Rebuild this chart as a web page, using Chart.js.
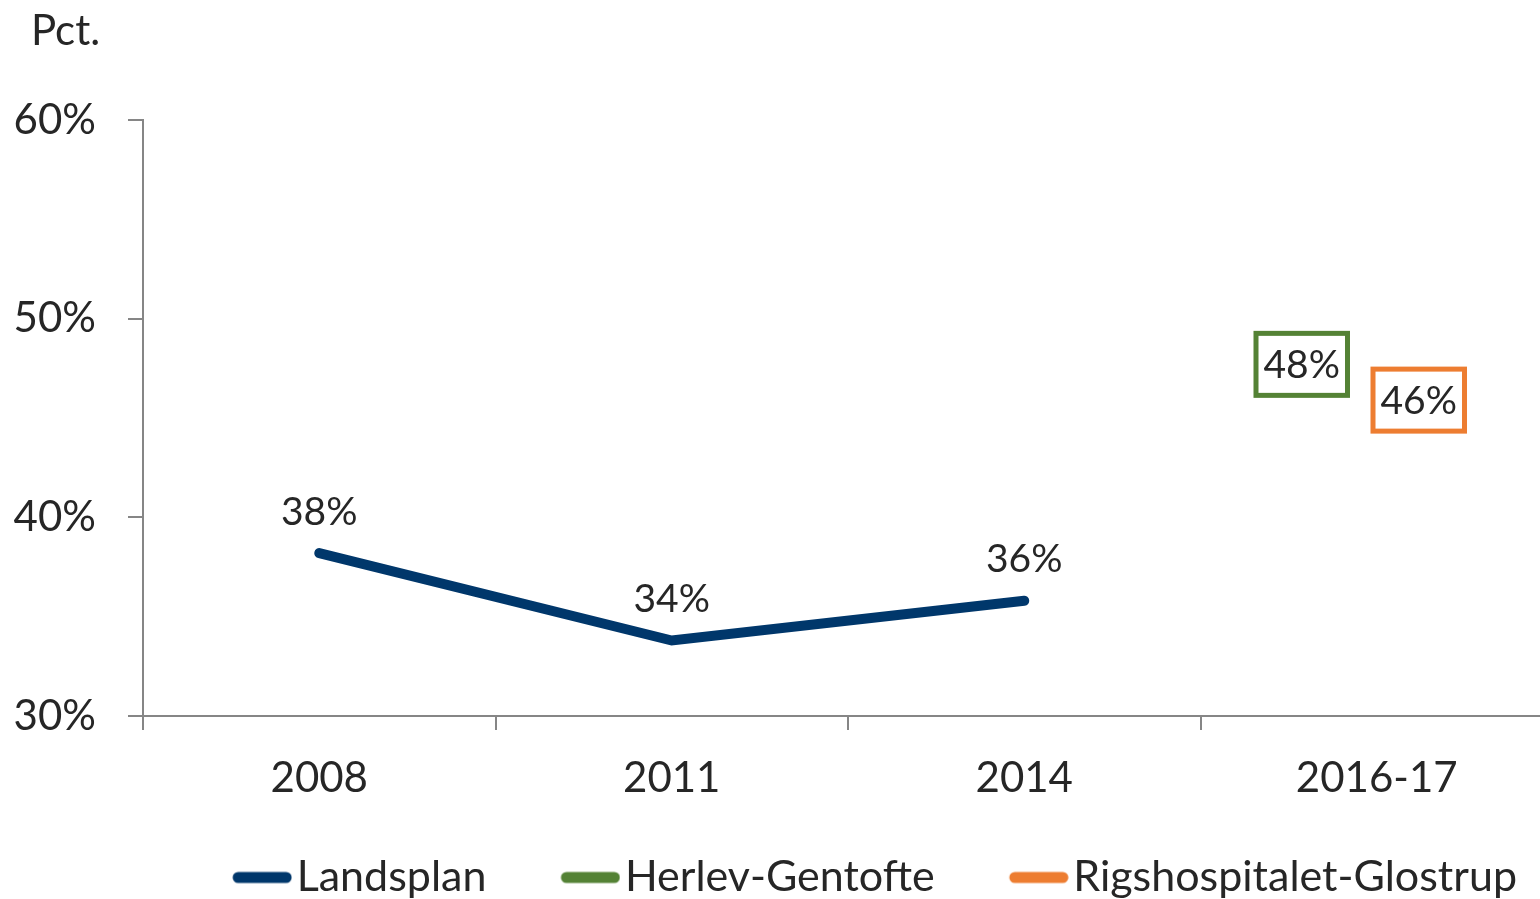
<!DOCTYPE html>
<html>
<head>
<meta charset="utf-8">
<script src="https://cdn.jsdelivr.net/npm/chart.js@4"></script>
<style>
  html, body { margin: 0; padding: 0; overflow: hidden; background: #fff; }
  #wrap { width: 1553px; height: 909px; }
</style>
</head>
<body>
<div id="wrap"><canvas id="chart" width="1553" height="909"></canvas></div>
<script>
// Data
const periods = ['2008', '2011', '2014', '2016-17'];
const landsplan = [38.2, 33.8, 35.8, null];
const herlevGentofte = [null, null, null, 47.7];
const rigsGlostrup = [null, null, null, 45.9];
const yTicks = [30, 40, 50, 60];

const FONT = 'Lato';
const TEXT = '#262626';
const AXIS = '#868686';

// legend marker: thick rounded line, drawn on the right part of a wider canvas
function legendLine(color) {
    const c = document.createElement('canvas');
    c.width = 115;
    c.height = 14;
    const g = c.getContext('2d');
    g.strokeStyle = color;
    g.lineWidth = 11;
    g.lineCap = 'round';
    g.beginPath();
    g.moveTo(61, 7);
    g.lineTo(109, 7);
    g.stroke();
    return c;
}

// value labels (plain or boxed) + the "Pct." unit text
const valueLabels = {
    id: 'valueLabels',
    afterDatasetsDraw(chart) {
        const ctx = chart.ctx;
        chart.data.datasets.forEach((ds, i) => {
            const meta = chart.getDatasetMeta(i);
            const lab = ds.valueLabel;
            meta.data.forEach((pt, j) => {
                const v = ds.data[j];
                if (v == null) return;
                const text = Math.round(v) + '%';
                const x = pt.x + lab.dx;
                const y = pt.y + lab.dy;
                ctx.save();
                ctx.font = '39px ' + FONT;
                ctx.textAlign = 'center';
                ctx.textBaseline = 'middle';
                if (lab.box) {
                    const w = ctx.measureText(text).width + 15;
                    const h = 62;
                    ctx.fillStyle = '#fff';
                    ctx.fillRect(x - w / 2, y - h / 2, w, h);
                    ctx.lineWidth = 5;
                    ctx.strokeStyle = ds.borderColor;
                    ctx.strokeRect(x - w / 2, y - h / 2, w, h);
                }
                ctx.fillStyle = TEXT;
                ctx.fillText(text, x, y + 1);
                ctx.restore();
            });
        });
    },
    afterDraw(chart) {
        const ctx = chart.ctx;
        ctx.save();
        ctx.font = '42px ' + FONT;
        ctx.fillStyle = TEXT;
        ctx.textAlign = 'left';
        ctx.textBaseline = 'alphabetic';
        ctx.fillText('Pct.', 31, 45);
        ctx.restore();
    }
};

new Chart(document.getElementById('chart'), {
    type: 'line',
    data: {
        labels: periods,
        datasets: [
            {
                label: 'Landsplan', data: landsplan,
                borderColor: '#00376b', backgroundColor: '#00376b',
                borderWidth: 10, borderCapStyle: 'round',
                pointRadius: 0, pointHoverRadius: 0,
                pointStyle: legendLine('#00376b'),
                valueLabel: { dx: 0, dy: -42, box: false }
            },
            {
                label: 'Herlev-Gentofte', data: herlevGentofte,
                borderColor: '#548235', backgroundColor: '#548235',
                borderWidth: 10, showLine: false,
                pointRadius: 0, pointHoverRadius: 0,
                pointStyle: legendLine('#548235'),
                valueLabel: { dx: -75, dy: 0, box: true }
            },
            {
                label: 'Rigshospitalet-Glostrup', data: rigsGlostrup,
                borderColor: '#ed7d31', backgroundColor: '#ed7d31',
                borderWidth: 10, showLine: false,
                pointRadius: 0, pointHoverRadius: 0,
                pointStyle: legendLine('#ed7d31'),
                valueLabel: { dx: 42, dy: 0, box: true }
            }
        ]
    },
    options: {
        responsive: false,
        animation: false,
        events: [],
        layout: { padding: { top: 120, left: 0, right: 0, bottom: 0 } },
        scales: {
            x: {
                offset: true,
                grid: { offset: true, drawOnChartArea: false, tickLength: 14, color: AXIS, lineWidth: 2 },
                border: { color: AXIS, width: 2 },
                ticks: { color: TEXT, font: { family: FONT, size: 42 }, padding: 23 },
                afterFit(s) { s.height = 104; }
            },
            y: {
                min: yTicks[0],
                max: yTicks[yTicks.length - 1],
                grid: { drawOnChartArea: false, tickLength: 15, color: AXIS, lineWidth: 2 },
                border: { color: AXIS, width: 2 },
                ticks: {
                    stepSize: yTicks[1] - yTicks[0],
                    color: TEXT,
                    font: { family: FONT, size: 42 },
                    padding: 32,
                    callback: v => v + '%'
                },
                afterFit(s) { s.width = 143; }
            }
        },
        plugins: {
            title: { display: false },
            tooltip: { enabled: false },
            legend: {
                position: 'bottom',
                align: 'end',
                labels: {
                    usePointStyle: true,
                    pointStyleWidth: 81,
                    padding: 36,
                    color: TEXT,
                    font: { family: FONT, size: 43 }
                }
            }
        }
    },
    plugins: [valueLabels]
});
</script>
</body>
</html>
